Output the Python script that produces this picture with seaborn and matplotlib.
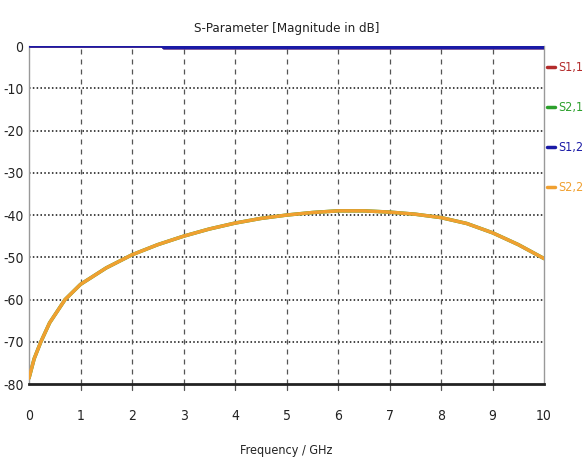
import matplotlib
matplotlib.use("Agg")
import matplotlib.pyplot as plt
import seaborn as sns
import pandas as pd

# Data
freq_s21 = [0, 0.1, 0.23, 0.4, 0.7, 1, 1.5, 2, 2.5, 3, 3.5, 4, 4.5, 5, 5.5, 6,
            6.5, 7, 7.5, 8, 8.5, 9, 9.5, 10]
s21_db = [-78.6, -74, -70, -65.5, -60, -56.4, -52.5, -49.4, -47, -45, -43.3,
          -41.9, -40.8, -40, -39.4, -39, -39, -39.3, -39.8, -40.6, -42, -44.2,
          -47, -50.3]
freq_s11 = [0, 2.6, 2.62, 10]
s11_db = [0, 0, -0.4, -0.4]
series_names = ["S1,1", "S2,1", "S1,2", "S2,2"]
series_colors = ["#b32b2b", "#2ca02c", "#1a1aa6", "#f0a030"]
x_ticks = list(range(0, 11))
y_ticks = list(range(0, -81, -10))

sns.set_theme(style="white")
plt.rcParams['font.family'] = ['DejaVu Sans']
plt.rcParams['font.stretch'] = 'condensed'

fig = plt.figure(figsize=(5.86, 4.65), dpi=100)
ax = fig.add_axes([0.0495, 0.174, 0.879, 0.727])

df_a = pd.DataFrame({"f": freq_s11, "v": s11_db})
df_b = pd.DataFrame({"f": freq_s21, "v": s21_db})

sns.lineplot(data=df_a, x="f", y="v", ax=ax, color=series_colors[0], lw=2.5,
             label=series_names[0], estimator=None, sort=False)
sns.lineplot(data=df_b, x="f", y="v", ax=ax, color=series_colors[1], lw=2.5,
             label=series_names[1], estimator=None, sort=False)
sns.lineplot(data=df_a, x="f", y="v", ax=ax, color=series_colors[2], lw=2.5,
             label=series_names[2], estimator=None, sort=False, zorder=5)
sns.lineplot(data=df_b, x="f", y="v", ax=ax, color=series_colors[3], lw=2.5,
             label=series_names[3], estimator=None, sort=False, zorder=5)

ax.set_xlim(0, 10)
ax.set_ylim(-80, 0)
ax.set_xticks(x_ticks)
ax.set_yticks(y_ticks)
ax.set_xticklabels([str(t) for t in x_ticks], fontsize=10, color="#222222")
ax.set_yticklabels([str(t) for t in y_ticks], fontsize=10, color="#222222")
ax.tick_params(axis="x", length=0, pad=18)
ax.tick_params(axis="y", length=0, pad=4)

for yv in y_ticks[1:-1]:
    ax.axhline(yv, color="#111111", lw=1.1, ls=(0, (1, 1.5)), zorder=1)
for xv in x_ticks[1:-1]:
    ax.axvline(xv, color="#555555", lw=0.9, ls=(0, (4, 4)), zorder=1)
    ax.plot([xv, xv], [-80, -81.5], color="#555555", lw=0.9, clip_on=False)

for side in ["left", "right"]:
    ax.spines[side].set_color("#999999")
    ax.spines[side].set_linewidth(1.0)
ax.spines["top"].set_visible(False)
ax.spines["bottom"].set_color("#222222")
ax.spines["bottom"].set_linewidth(2.0)

ax.set_xlabel("Frequency / GHz", fontsize=9, color="#222222", labelpad=15)
ax.set_ylabel("")
ax.set_title("S-Parameter [Magnitude in dB]", fontsize=9.5, color="#222222", pad=10)

ax.get_legend().remove()
handles, labels = ax.get_legend_handles_labels()
fig.legend(handles, labels, loc="upper left", bbox_to_anchor=(0.933, 0.868),
           frameon=False, fontsize=9, handlelength=0.7, handletextpad=0.25,
           labelspacing=2.15, borderpad=0, borderaxespad=0,
           labelcolor=series_colors)

fig.savefig("out.png", dpi=100)
